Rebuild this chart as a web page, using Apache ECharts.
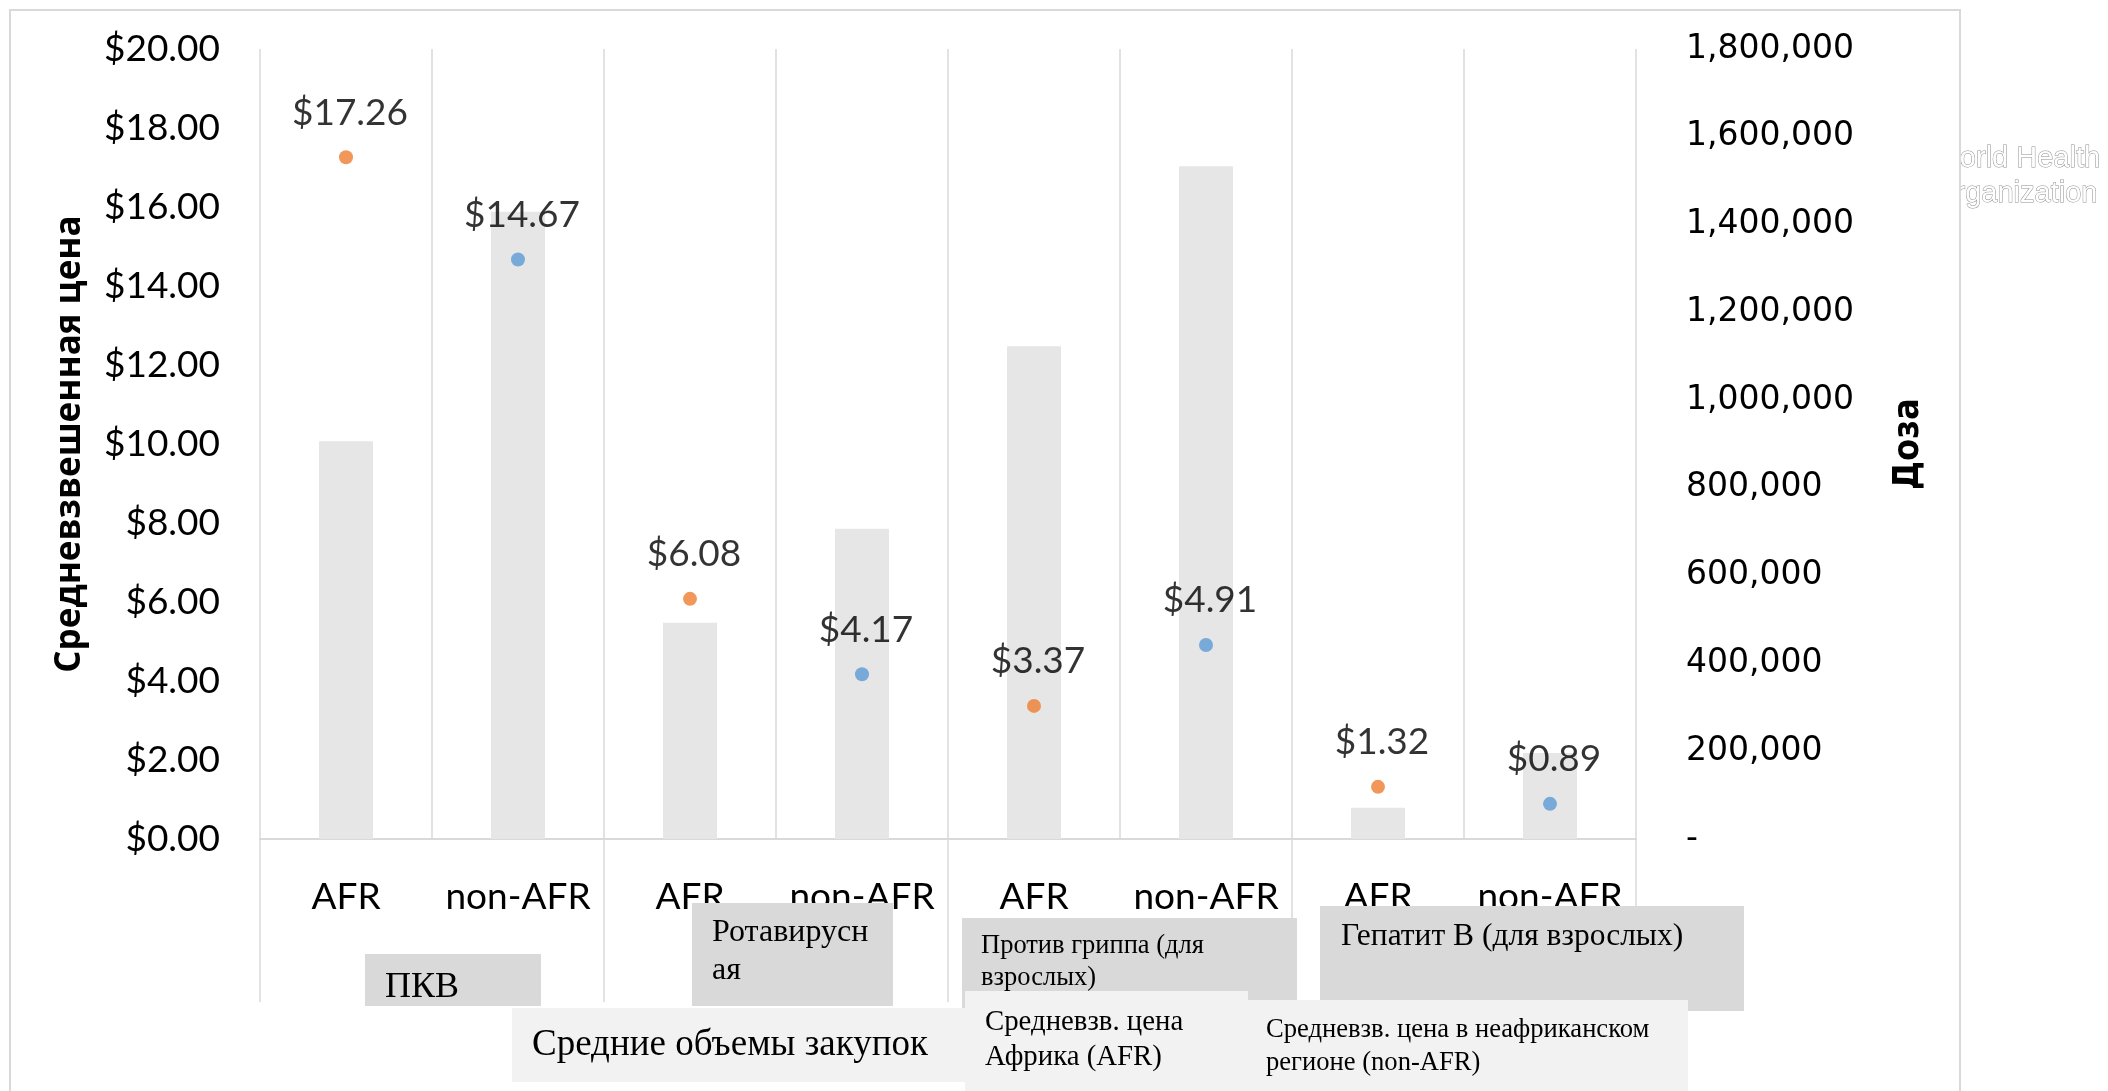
<!DOCTYPE html>
<html>
<head>
<meta charset="utf-8">
<script src="https://cdn.jsdelivr.net/npm/echarts@6/dist/echarts.min.js"></script>
<style>
  html, body { margin: 0; padding: 0; background: #fff; }
  #chart { width: 2108px; height: 1091px; }
</style>
</head>
<body>
<div id="chart"></div>
<script>
// категории по оси X и группы вакцин
const categories = ['AFR', 'non-AFR', 'AFR', 'non-AFR', 'AFR', 'non-AFR', 'AFR', 'non-AFR'];
const groups = ['ПКВ', 'Ротавирусная', 'Против гриппа (для взрослых)', 'Гепатит B (для взрослых)'];

// средние объемы закупок (доза, правая ось)
const doses = [906000, 1429000, 493000, 707000, 1123000, 1533000, 71000, 196000];
// средневзвешенная цена, левая ось
const priceAFR = [17.26, '-', 6.08, '-', 3.37, '-', 1.32, '-'];
const priceNonAFR = ['-', 14.67, '-', 4.17, '-', 4.91, '-', 0.89];

// подписи текстовых блоков под осью
const boxTexts = {
  pkv: 'ПКВ',
  rota: 'Ротавирусн\nая',
  flu: 'Против гриппа (для\nвзрослых)',
  hepb: 'Гепатит B (для взрослых)',
  volume: 'Средние объемы закупок',
  afr: 'Средневзв. цена\nАфрика (AFR)',
  nonAfr: 'Средневзв. цена в неафриканском\nрегионе (non-AFR)'
};

const labelFont = 'Lato, "Open Sans", sans-serif';
const serif = '"Liberation Serif", "DejaVu Serif", serif';
const gridColor = '#D9D9D9';

const chart = echarts.init(document.getElementById('chart'), null, { renderer: 'canvas' });

const priceLabel = {
  show: true,
  position: 'top',
  distance: 19,
  offset: [4, 0],
  color: '#000',
  fontFamily: labelFont,
  fontSize: 37,
  lineHeight: 37,
  formatter: p => {
    const v = Array.isArray(p.value) ? p.value[1] : p.value;
    return '$' + Number(v).toFixed(2);
  }
};

// прямоугольник с текстом (текстовые поля как в исходной диаграмме)
const box = (x, y, w, h, fill, text, fontSize, tx, ty, lh, z) => ([
  { type: 'rect', z: z, shape: { x: x, y: y, width: w, height: h }, style: { fill: fill } },
  {
    type: 'text', z: z + 1, x: tx, y: ty,
    style: {
      text: text, fill: '#000', font: fontSize + 'px ' + serif,
      verticalAlign: 'middle', align: 'left', lineHeight: lh
    }
  }
]);

const option = {
  backgroundColor: '#fff',
  animation: false,
  grid: { left: 260, right: 472, top: 49, bottom: 252, containLabel: false },
  xAxis: [
    {
      type: 'category',
      data: categories,
      position: 'bottom',
      axisLine: { show: true, lineStyle: { color: gridColor, width: 2 } },
      axisTick: { show: false },
      splitLine: { show: true, interval: 0, lineStyle: { color: gridColor, width: 1.5 } },
      axisLabel: {
        interval: 0, margin: 40, color: '#000',
        fontFamily: labelFont, fontSize: 37, lineHeight: 37
      }
    },
    {
      // группы: разделители под осью
      type: 'category',
      data: groups,
      position: 'bottom',
      axisLine: { show: false },
      axisTick: { show: true, interval: 0, length: 163, lineStyle: { color: gridColor, width: 1.5 } },
      axisLabel: { show: false },
      splitLine: { show: false }
    }
  ],
  yAxis: [
    {
      type: 'value',
      min: 0, max: 20, interval: 2,
      position: 'left',
      axisLine: { show: false },
      axisTick: { show: false },
      splitLine: { show: false },
      axisLabel: {
        margin: 40, color: '#000', fontFamily: labelFont, fontSize: 37,
        formatter: v => '$' + v.toFixed(2)
      },
      name: 'Средневзвешенная цена',
      nameLocation: 'middle',
      nameRotate: 90,
      nameGap: 172,
      nameTextStyle: {
        color: '#000', fontFamily: '"Open Sans", "Noto Sans", sans-serif',
        fontWeight: 'bold', fontSize: 35
      }
    },
    {
      type: 'value',
      min: 0, max: 1800000, interval: 200000,
      position: 'right',
      axisLine: { show: false },
      axisTick: { show: false },
      splitLine: { show: false },
      axisLabel: {
        margin: 50, color: '#000', align: 'left',
        fontFamily: '"DejaVu Sans", sans-serif', fontSize: 33,
        formatter: v => v === 0 ? '-' : v.toLocaleString('en-US')
      },
      name: 'Доза',
      nameLocation: 'middle',
      nameRotate: 90,
      nameGap: 255,
      nameTextStyle: {
        color: '#000', fontFamily: '"Liberation Sans Narrow", "DejaVu Sans Condensed", sans-serif',
        fontWeight: 'bold', fontSize: 36
      }
    }
  ],
  series: [
    {
      name: 'Средние объемы закупок',
      type: 'bar',
      xAxisIndex: 0,
      yAxisIndex: 1,
      data: doses,
      barWidth: 54,
      itemStyle: { color: '#E7E6E6' }
    },
    {
      name: 'Средневзв. цена Африка (AFR)',
      type: 'scatter',
      xAxisIndex: 0,
      yAxisIndex: 0,
      data: priceAFR,
      symbolSize: 14,
      itemStyle: { color: '#ED7D31' },
      label: priceLabel
    },
    {
      name: 'Средневзв. цена в неафриканском регионе (non-AFR)',
      type: 'scatter',
      xAxisIndex: 0,
      yAxisIndex: 0,
      data: priceNonAFR,
      symbolSize: 14,
      itemStyle: { color: '#5B9BD5' },
      label: priceLabel
    }
  ],
  graphic: [
    // водяной знак за белой областью диаграммы
    {
      type: 'text', z: -20, x: 1933, y: 176,
      style: {
        text: 'World Health\nOrganization', font: '29px "Liberation Sans", Arial, sans-serif',
        fill: '#fff', stroke: '#8f8f8f', lineWidth: 1, lineHeight: 35,
        verticalAlign: 'middle', align: 'left'
      }
    },
    {
      type: 'rect', z: -10,
      shape: { x: 10, y: 10, width: 1950, height: 1120 },
      style: { fill: '#fff', stroke: gridColor, lineWidth: 2 }
    },
    ...box(365, 954, 176, 52, '#D9D9D9', boxTexts.pkv, 36, 385, 988, 36, 100),
    ...box(692, 903, 201, 103, '#D9D9D9', boxTexts.rota, 32, 712, 952, 38, 100),
    ...box(962, 918, 335, 90, '#D9D9D9', boxTexts.flu, 26.5, 981, 962, 32, 100),
    ...box(1320, 906, 424, 105, '#D9D9D9', boxTexts.hepb, 31.5, 1341, 937, 34, 100),
    ...box(512, 1008, 453, 74, '#F2F2F2', boxTexts.volume, 37, 532, 1045, 37, 110),
    ...box(965, 991, 283, 100, '#F2F2F2', boxTexts.afr, 28.8, 985, 1040, 35, 110),
    ...box(1248, 1000, 440, 91, '#F2F2F2', boxTexts.nonAfr, 26.6, 1266, 1047, 33, 110)
  ]
};

chart.setOption(option);
</script>
</body>
</html>
